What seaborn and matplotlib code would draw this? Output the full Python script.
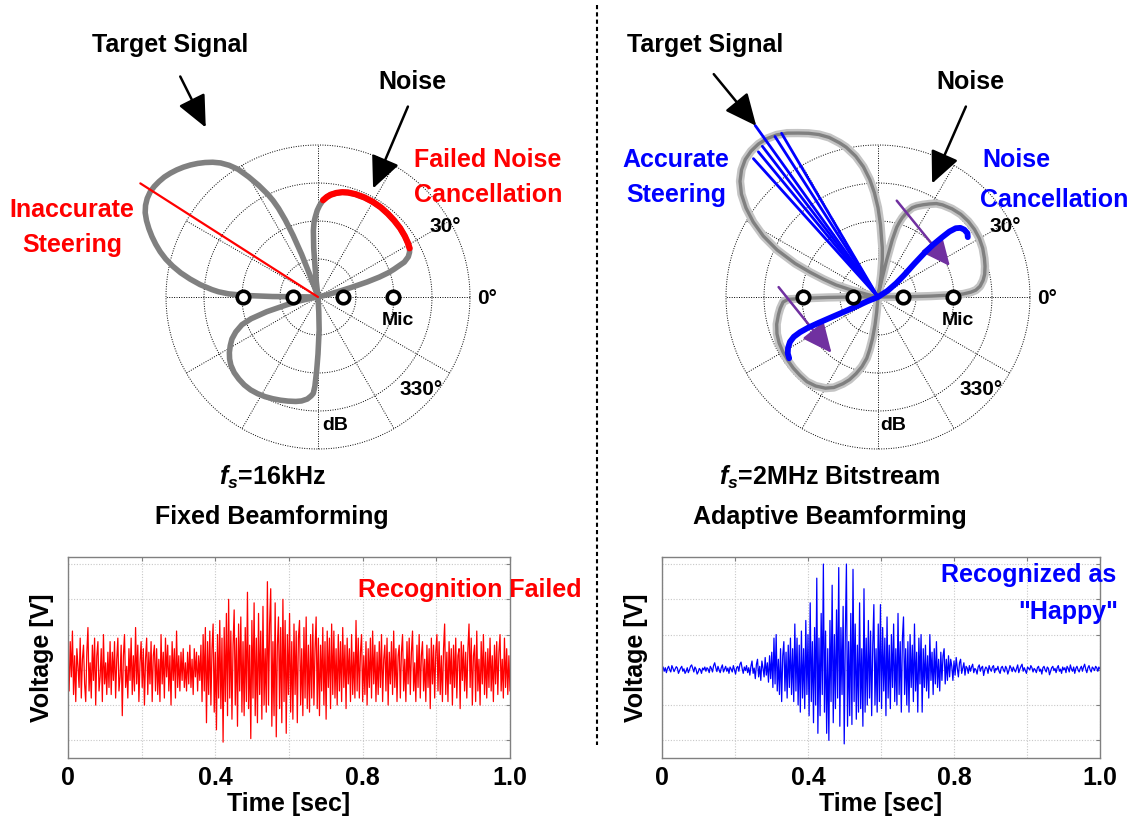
import numpy as np
import matplotlib
matplotlib.use('Agg')
import matplotlib.pyplot as plt
from matplotlib.lines import Line2D
from matplotlib.patches import FancyArrowPatch
import seaborn as sns

# ---- beam patterns (angle in deg, radius in ring units: rings at 10/20/30/40) ----
fixed_ang = [0, 12, 13, 14, 15, 16, 17, 18, 19, 20, 22, 24, 26, 28, 31, 35, 40, 45, 50, 55, 60, 65, 70,
             74, 77, 80, 83, 85, 87, 89, 90.5, 92, 93, 94, 95, 95.6, 96.2, 97,
             108, 109.5, 110, 111, 112, 113, 114, 115, 116, 118, 120, 122, 124, 126, 128, 130, 132, 134,
             136, 138, 140, 142, 144, 146, 148, 150, 152, 154, 156, 158, 160, 162, 164, 166, 168, 170,
             172, 174, 176, 177, 178, 178.8, 179.4, 180,
             188, 190, 191, 192, 194, 196, 198, 200, 203, 206, 209, 212, 215, 218, 222, 226, 230, 234,
             238, 242, 246, 250, 254, 258, 261, 264, 266, 267.2, 268, 269, 270, 271, 272, 273, 274, 360]
fixed_r = [0, 0, 0.5, 3, 5.5, 9, 13.5, 17, 19.5, 21.2, 24.5, 26.0, 26.8, 27.3, 27.6, 27.9, 28.2, 28.4,
           28.6, 28.8, 28.9, 28.9, 28.8, 28.6, 28.3, 27.8, 27.1, 26.4, 25.5, 24.1, 22.8, 21.0, 19.8,
           17.5, 13, 8, 4, 0,
           0, 3.2, 5, 12, 17.5, 22, 25.5, 28, 30, 33.3, 36.5, 39.6, 41.8, 43.6, 45.0, 46.2, 47.3, 48.3,
           49.2, 50.0, 50.7, 51.3, 51.7, 52.0, 52.1, 51.9, 51.4, 50.6, 49.4, 48.0, 46.5, 44.9, 43.2,
           41.3, 39.1, 36.7, 34.0, 31.2, 28.0, 26.2, 23.5, 19, 12, 0,
           0, 1.5, 3, 5.5, 8.5, 14, 18.5, 21.3, 23.5, 25.2, 26.4, 27.5, 28.4, 29.1, 29.7, 30.0, 30.2,
           30.2, 30.0, 29.7, 29.3, 28.9, 28.5, 28.1, 27.7, 27.0, 26.1, 25.4, 23.5, 19.2, 15, 11, 8.7,
           4, 0, 0]

adapt_ang = [0, 0.5, 1, 1.5, 2, 3, 4, 6, 9, 12, 16, 20, 25, 30, 35, 40, 45, 50, 55, 58, 61, 64, 67, 69,
             71, 73, 74, 75, 76, 76.8, 77.5, 78.2, 79,
             80, 81, 82, 83.5, 85, 86.3, 88, 90, 92, 94, 96.4, 99, 102, 104, 107, 110, 113, 116, 119,
             122, 125, 128, 131, 134, 137, 140, 143, 146, 149, 152, 155, 158, 160, 162, 164, 165.5,
             166.5, 167,
             179, 179.8, 180.5, 181, 181.5, 183, 186.6, 190, 195, 200, 205, 210, 215, 220, 225, 230,
             235, 240, 244, 248, 251, 254, 257, 259.6, 261, 262.5, 263.9, 265, 266, 360]
adapt_r = [0, 8, 14, 19, 22.4, 24.5, 25.8, 27.0, 28.0, 28.7, 29.3, 29.8, 30.4, 30.8, 31.0, 31.0, 30.8,
           30.3, 29.6, 29.0, 28.0, 27.0, 26.0, 25.2, 23.8, 21.8, 20.5, 19.0, 15.5, 10, 5, 2, 0,
           0, 3, 6, 10, 13, 15, 19, 23.5, 27.5, 31, 34.5, 37.5, 40.3, 41.8, 43.9, 45.5, 46.8, 48.0,
           49.3, 50.3, 50.9, 51.1, 50.9, 50.3, 49.1, 47.4, 45.0, 41.9, 38.3, 34.2, 29.3, 23.5, 19.0,
           15.0, 11.5, 7, 3, 0,
           0, 6, 13.2, 19, 23.7, 25.0, 25.9, 26.6, 27.6, 28.3, 28.7, 28.9, 29.0, 29.1, 29.1, 29.1,
           28.6, 27.7, 26.5, 24.6, 23.0, 21.0, 18.8, 16.4, 14, 11, 7.4, 4, 0, 0]

cancel_ang = [214.6, 212, 209.5, 207, 205.3, 204.3, 203.7, 203.5, 203.5, 203.6, 203.3, 202, 200,
              33, 37, 40, 42.5, 43.5, 43.5, 43, 42.5, 41.5, 40, 38, 35.5, 33.7]
cancel_r = [28.4, 28.0, 27.2, 26.0, 24.5, 22.5, 20, 17, 13, 9, 6, 3, 0,
            3, 6, 9, 13, 17, 20, 23, 25.5, 27.3, 28.3, 28.8, 28.9, 28.4]

steer_ang = [120.5, 122.7, 125.6, 127.5, 129.5, 132.0]
steer_r = [50.0, 50.2, 55.5, 50.0, 49.5, 49.0]
wrong_ang = [147.4]
wrong_r = [55.5]
mic_ang = [0, 0, 180, 180]
mic_r = [6.6, 19.7, 6.6, 19.7]
ring_r = [10, 20, 30, 40]
spoke_ang = [0, 30, 60, 90, 120, 150, 180, 210, 240, 270, 300, 330]

# ---- recorded waveforms (400 samples over the time axis) ----
red_v = [0.3, -0.6, 0.8, -0.2, 1.1, -0.7, 0.4, -0.9, 0.6, 0.1, -0.5, 0.9, -0.8, 0.3, 0.7, -0.4, -0.9, 0.5, 1.2, -0.6,
         0.2, -0.8, 0.7, -0.3, 0.9, -1.0, 0.4, 0.8, -0.6, -0.2, 0.6, -0.9, 1.0, -0.4, 0.2, -0.7, 0.5, -0.5, 0.8, -0.7,
         0.5, -0.3, 0.8, -0.8, 0.3, 0.9, -0.6, -0.2, 0.7, -1.3, 0.4, 1.0, -0.5, 0.1, -0.8, 0.6, -0.3, 0.9, -0.7, 0.4,
         -0.6, 1.2, -0.4, 0.7, -0.9, 0.2, 0.8, -0.5, 0.6, -1.0, 0.3, 0.9, -0.7, 0.5, -0.4, 0.8, -0.9, 0.4, 0.7, -0.6,
         0.6, -0.7, 0.3, -0.9, 1.0, -0.4, 0.5, -0.8, 0.9, -0.2, 0.7, -0.6, 0.4, -1.0, 0.8, -0.3, 0.6, -0.8, 1.1, -0.5,
         0.4, -0.6, 0.5, -0.3, 0.6, -0.5, 0.2, -0.6, 0.5, -0.4, 0.7, -0.5, 0.3, -0.7, 0.6, -0.2, 0.5, -0.6, 0.4, -0.3,
         0.7, -0.9, 1.0, -0.6, 1.2, -1.5, 0.8, -0.7, 1.1, -1.0, 0.6, 1.3, -1.2, 0.5, -1.7, 1.0, -0.8, 1.4, -1.1, 0.9,
         -2.05, 1.2, -0.9, 1.6, -1.3, 2.0, -0.8, 1.1, -1.4, 0.7, 1.7, -1.0, 0.9, -1.6, 1.3, -0.6, 1.5, -1.2, 0.8, -1.3,
         1.2, -0.9, 2.2, -1.1, 0.7, -1.95, 1.4, -0.8, 1.9, -1.3, 0.9, -1.5, 1.6, -0.7, 1.1, -1.4, 1.8, -1.0, 0.6, -1.2,
         2.5, -1.0, 1.3, 2.3, -1.6, 0.8, -1.3, 1.9, -1.9, 0.7, 1.5, -1.1, 1.2, -1.5, 2.0, -0.9, 1.4, -1.8, 1.0, -0.7,
         1.6, -1.2, 0.8, -1.4, 1.3, -0.7, 1.1, -1.5, 0.9, 1.4, -1.0, 0.6, -1.3, 1.2, -0.8, 1.5, -1.1, 0.7, -1.2, 1.0,
         -0.8, 1.3, -1.0, 0.6, 1.5, -1.1, 0.9, -1.3, 0.7, -0.6, 1.2, -1.0, 0.8, -1.4, 1.1, -0.5, 0.9, -1.1, 1.3, -0.7,
         1.1, -0.8, 0.6, -1.0, 1.0, -0.6, 0.8, -0.9, 1.2, -0.5, 0.7, -1.1, 0.9, -0.4, 0.6, -0.9, 1.0, -0.7, 0.5, -0.8,
         1.4, -0.6, 0.9, -0.8, 0.5, 1.0, -0.9, 0.4, -0.7, 0.8, -1.0, 0.6, -0.5, 0.9, -0.8, 1.1, -0.4, 0.7, -0.9, 0.5,
         -0.7, 0.8, -0.5, 1.0, -0.9, 0.3, 0.7, -0.6, 0.9, -1.0, 0.5, -0.4, 0.8, -0.7, 1.1, -0.5, 0.6, -0.9, 0.4, 0.7,
         -0.8, 0.5, 1.0, -0.6, 0.3, -0.9, 0.8, -0.4, 0.9, -0.7, 0.5, 1.1, -0.6, 0.2, -0.9, 0.7, -0.5, 1.0, -0.8, 0.4,
         0.8, -0.6, 0.3, -0.9, 0.7, -0.5, 0.6, -1.1, 0.9, -0.4, 0.7, -0.8, 0.5, 1.0, -0.6, 0.8, -0.7, 0.4, -0.9, 0.6,
         1.3, -0.7, 0.5, -0.9, 0.8, -0.4, 0.6, -1.0, 0.7, -0.5, 0.9, -0.8, 0.4, 0.6, -1.1, 0.8, -0.3, 0.7, -0.6, 0.5,
         -0.8, 0.6, 1.3, -0.5, 0.9, -1.0, 0.4, 0.7, -0.9, 1.1, -0.6, 0.3, -1.0, 0.8, -0.4, 1.0, -0.7, 0.5, -0.8, 0.6,
         -0.5, 0.9, -0.6, 0.4, -0.9, 0.7, -0.4, 0.8, -0.7, 0.5, 1.0, -0.6, 0.3, -0.8, 0.9, -0.5, 0.6, -0.7, 0.4, -0.6]
blue_v = [0.02, 0.08, -0.04, 0.06, -0.08, 0.04, 0.1, 0.0, -0.06, 0.12, 0.04, -0.05, 0.02, 0.09, 0.05, -0.1, -0.02, 0.05, 0.1, -0.04,
          0.03, -0.1, -0.04, 0.06, -0.08, 0.0, 0.1, 0.14, 0.04, -0.06, 0.08, 0.02, -0.12, -0.06, 0.04, 0.0, -0.1, 0.05, 0.0, 0.08,
          -0.04, 0.06, 0.02, -0.08, 0.1, 0.04, -0.06, 0.12, 0.2, 0.06, -0.05, 0.1, 0.0, -0.08, 0.06, 0.14, -0.06, 0.02, 0.1, -0.04,
          0.05, -0.1, 0.08, 0.02, -0.06, 0.12, 0.0, -0.12, 0.06, 0.1, -0.04, 0.16, 0.22, 0.04, -0.1, 0.08, -0.02, 0.12, -0.08, 0.06,
          -0.15, 0.1, 0.25, -0.1, 0.05, -0.25, 0.15, 0.3, -0.2, 0.1, -0.3, 0.25, 0.05, -0.2, 0.35, -0.15, 0.2, -0.35, 0.4, -0.25,
          0.5, -0.5, 0.9, -0.4, 1.0, -0.6, 0.3, -0.7, 0.6, -0.9, 0.4, 0.8, -0.6, 0.5, -0.8, 0.7, -0.5, 0.9, -0.7, 0.6,
          -0.9, 1.3, -0.6, 0.9, -1.0, 0.7, -1.2, 1.1, -0.8, 0.6, -1.1, 1.4, -0.7, 1.0, -1.3, 1.9, -0.9, 0.8, -1.5, 1.2,
          -1.0, 2.6, -1.8, 0.9, -1.3, 1.6, -0.7, 3.0, -1.2, 1.1, -1.8, 0.6, -2.0, 1.4, -0.9, 2.4, -1.5, 1.0, -1.1, 1.7,
          -0.8, 2.9, -1.6, 1.2, -0.7, 1.8, -2.1, 1.0, 3.0, -1.6, 0.8, -1.3, 1.6, -1.55, 2.85, -0.9, 1.3, -1.4, 0.7, -1.2,
          1.9, -1.1, 0.6, -1.6, 2.3, -1.2, 0.9, -1.0, 1.4, -0.8, 1.1, -1.3, 0.7, 1.85, -1.0, 0.6, -1.2, 1.3, -0.9, 1.85,
          -1.1, 1.2, -0.6, 0.9, -1.3, 1.5, -0.8, 0.7, -1.1, 1.0, -0.5, 1.3, -0.9, 0.6, -1.0, 1.6, -0.7, 0.8, -1.2, 0.9,
          1.5, -0.7, 0.6, -1.0, 0.8, -1.2, 1.0, -0.5, 0.7, -0.9, 1.3, -0.6, 0.5, -1.2, 0.9, -0.4, 1.0, -1.2, 0.6, -0.5,
          0.7, -0.6, 0.4, -0.8, 1.0, -0.3, 0.5, -0.7, 0.6, -0.4, 0.8, -0.5, 0.3, -0.6, 0.5, -0.3, 0.4, 0.6, -0.4, 0.3,
          -0.3, 0.4, -0.2, 0.3, 0.1, -0.3, 0.25, -0.15, 0.35, 0.05, -0.2, 0.2, 0.3, -0.1, 0.05, 0.2, -0.15, 0.1, 0.05, -0.1,
          0.12, -0.04, 0.08, 0.16, -0.08, 0.04, 0.0, -0.12, 0.08, 0.14, -0.04, 0.06, 0.1, -0.16, 0.0, 0.08, 0.04, -0.1, 0.12, 0.02,
          -0.04, 0.08, 0.12, -0.08, 0.04, 0.0, 0.1, -0.04, -0.1, 0.06, 0.1, 0.0, -0.06, 0.1, 0.04, -0.12, -0.02, 0.12, 0.05, -0.05,
          0.08, 0.0, -0.06, 0.04, 0.14, -0.08, 0.02, 0.1, 0.16, -0.04, 0.06, -0.02, -0.1, 0.08, 0.04, 0.0, 0.12, 0.06, -0.06, 0.04,
          0.0, -0.08, 0.06, 0.1, -0.04, 0.02, -0.12, 0.06, 0.1, 0.0, -0.06, 0.08, 0.04, -0.14, -0.04, 0.06, 0.1, -0.02, 0.04, -0.08,
          0.06, 0.12, -0.04, 0.02, -0.1, 0.08, 0.0, 0.06, -0.08, 0.1, 0.04, -0.06, 0.14, 0.02, -0.04, 0.08, -0.1, 0.04, 0.1, 0.0,
          -0.06, 0.04, 0.1, -0.04, 0.08, 0.16, 0.02, -0.08, 0.06, 0.12, 0.0, -0.06, 0.08, 0.04, -0.02, 0.1, 0.06, -0.04, 0.08, 0.02]
time_ticks = [0, 0.2, 0.4, 0.6, 0.8, 1.0, 1.2]
time_labels = ['0', '', '0.4', '', '0.8', '', '1.0']
volt_ticks = [-2, -1, 0, 1, 2, 3]

sns.set_style('white')
plt.rcParams['font.family'] = ['Liberation Sans', 'DejaVu Sans']
plt.rcParams['font.weight'] = 'bold'
plt.rcParams['text.color'] = 'black'
plt.rcParams['axes.labelcolor'] = 'black'
plt.rcParams['xtick.labelcolor'] = 'black'
plt.rcParams['mathtext.fontset'] = 'custom'
plt.rcParams['mathtext.it'] = 'Liberation Sans:italic:bold'
plt.rcParams['mathtext.rm'] = 'Liberation Sans:bold'

W, H = 1135, 825
fig = plt.figure(figsize=(W / 100, H / 100), dpi=100)
BLUE = '#0000ff'
RED = '#ff0000'
GRAY = '#808080'
LGRAY = '#c4c4c4'
PURPLE = '#7030a0'
FS = 18


def px(x, y):
    return x / W, 1 - y / H


def txt(x, y, s, size=FS, **kw):
    kw.setdefault('ha', 'center')
    fig.text(*px(x, y), s, fontsize=size, va='center', fontweight='bold', **kw)


def arrow(x0, y0, x1, y1, color='k', lw=1.8, ax=None, scale=28):
    style = '-|>,head_length=0.7,head_width=0.32'
    if ax is None:
        a = FancyArrowPatch(px(x0, y0), px(x1, y1), transform=fig.transFigure, arrowstyle=style,
                            mutation_scale=scale, lw=lw, color=color)
        fig.add_artist(a)
    else:
        ax.annotate('', xy=(np.radians(x1), y1), xytext=(np.radians(x0), y0),
                    arrowprops=dict(arrowstyle=style, mutation_scale=scale, lw=lw, color=color))


def polar_panel(cx, cy):
    R = 56 * 3.8
    ax = fig.add_axes([(cx - R) / W, 1 - (cy + R) / H, 2 * R / W, 2 * R / H], projection='polar')
    ax.set_ylim(0, 56)
    ax.set_xticks([])
    ax.set_yticks([])
    ax.grid(False)
    ax.spines['polar'].set_visible(False)
    ax.patch.set_visible(False)
    t = np.linspace(0, 2 * np.pi, 361)
    for rr in ring_r:
        ax.plot(t, np.full_like(t, rr), color='k', lw=0.7, ls=(0, (1, 1.5)), zorder=1)
    for a in spoke_ang:
        ax.plot([np.radians(a)] * 2, [0, 40], color='k', lw=0.7, ls=(0, (1, 1.5)), zorder=1)
    return ax


def mics(ax):
    ax.plot(np.radians(mic_ang), mic_r, 'o', ls='none', mfc='white', mec='k', ms=9, mew=2.6, zorder=6)


# ---------- left: fixed beamforming ----------
axl = polar_panel(318, 297)
fa = np.radians(fixed_ang)
fr = np.array(fixed_r)
axl.plot(fa, fr, color=GRAY, lw=4, zorder=3, solid_joinstyle='round')
sel = (np.array(fixed_ang) >= 27) & (np.array(fixed_ang) <= 88)
axl.plot(fa[sel], fr[sel], color=RED, lw=4.5, zorder=4, solid_joinstyle='round')
axl.plot([np.radians(wrong_ang[0])] * 2, [0, wrong_r[0]], color=RED, lw=1.6, zorder=4)
mics(axl)

# ---------- right: adaptive beamforming ----------
axr = polar_panel(878, 297)
aa = np.radians(adapt_ang)
axr.plot(aa, adapt_r, color=LGRAY, lw=6, zorder=2, solid_joinstyle='round')
axr.plot(aa, adapt_r, color=GRAY, lw=2.4, zorder=3, solid_joinstyle='round')
for a, r in zip(steer_ang, steer_r):
    axr.plot([np.radians(a)] * 2, [0, r], color=BLUE, lw=2, zorder=4)
axr.plot(np.radians(cancel_ang), cancel_r, color=BLUE, lw=4.2, zorder=5,
         solid_capstyle='round', solid_joinstyle='round')
arrow(80.2, 26.3, 21.3, 20.8, color=PURPLE, lw=1.8, ax=axr, scale=26)
arrow(173.2, 26.8, 232.4, 19.3, color=PURPLE, lw=1.8, ax=axr, scale=26)
mics(axr)


# ---------- waveforms ----------
def wave_panel(x0, x1, vals, color):
    ax = fig.add_axes([x0 / W, 1 - 758 / H, (x1 - x0) / W, 201 / H])
    t = np.linspace(0, 1.2, len(vals))
    sns.lineplot(x=t, y=vals, ax=ax, color=color, lw=0.9)
    ax.set_xlim(0, 1.2)
    ax.set_ylim(-2.5, 3.2)
    ax.set_xticks(time_ticks)
    ax.set_xticklabels(time_labels, fontsize=FS, fontweight='bold')
    ax.set_yticks(volt_ticks)
    ax.set_yticklabels([])
    ax.grid(True, color='#c8c8c8', lw=0.8, ls=(0, (1, 1.5)))
    ax.tick_params(direction='in', length=3, color=GRAY, top=True, right=True, pad=6)
    for s in ax.spines.values():
        s.set_color(GRAY)
        s.set_linewidth(1)
    ax.set_xlabel('Time [sec]', fontsize=FS, fontweight='bold', labelpad=1)
    ax.set_ylabel('Voltage [V]', fontsize=FS, fontweight='bold', labelpad=4)
    return ax


wave_panel(68, 510, red_v, RED)
wave_panel(662, 1100, blue_v, BLUE)

# ---------- annotations ----------
txt(170, 45, 'Target Signal')
arrow(179, 74, 207, 130)
txt(412, 82, 'Noise')
arrow(409, 104, 372, 191)
txt(488, 160, 'Failed Noise', color=RED)
txt(488, 195, 'Cancellation', color=RED)
txt(72, 210, 'Inaccurate', color=RED)
txt(72, 245, 'Steering', color=RED)
txt(272, 477, r'$f_s$=16kHz')
txt(272, 517, 'Fixed Beamforming')

txt(705, 45, 'Target Signal')
arrow(712, 72, 758, 128)
txt(970, 82, 'Noise')
arrow(967, 104, 931, 186)
txt(676, 160, 'Accurate', color=BLUE)
txt(676, 195, 'Steering', color=BLUE)
txt(982, 160, 'Noise', color=BLUE, ha='left')
txt(980, 200, 'Cancellation', color=BLUE, ha='left')
txt(830, 477, r'$f_s$=2MHz Bitstream')
txt(830, 517, 'Adaptive Beamforming')

for cx in (0, 560):
    txt(445 + cx, 227, '30°', size=15)
    txt(487 + cx, 298, '0°', size=15)
    txt(421 + cx, 390, '330°', size=15)
    txt(335 + cx - (2 if cx else 0), 425, 'dB', size=14)
    txt(398 + cx, 320, 'Mic', size=14)

txt(582, 590, 'Recognition Failed', color=RED, ha='right')
txt(1116, 575, 'Recognized as', color=BLUE, ha='right')
txt(1118, 612, '"Happy"', color=BLUE, ha='right')

fig.add_artist(Line2D([597 / W] * 2, [1 - 5 / H, 1 - 745 / H], transform=fig.transFigure,
                      color='k', lw=1.5, ls=(0, (2, 1.5))))

fig.savefig('out.png', dpi=100)
